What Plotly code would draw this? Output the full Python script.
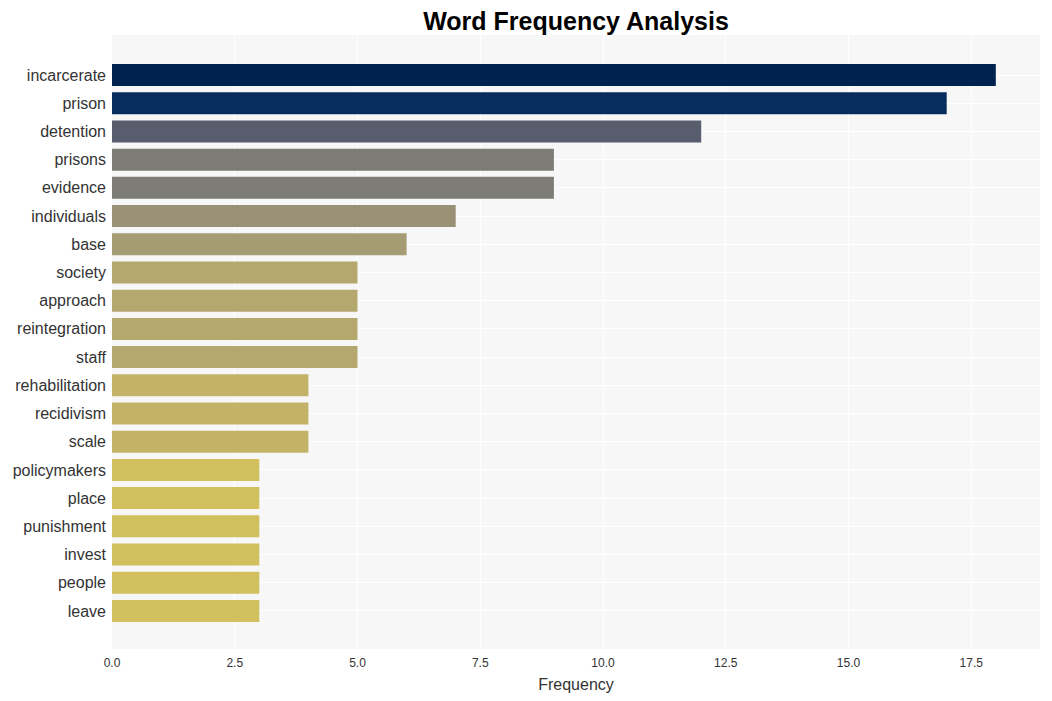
import plotly.graph_objects as go

words = ["incarcerate", "prison", "detention", "prisons", "evidence", "individuals", "base",
         "society", "approach", "reintegration", "staff", "rehabilitation", "recidivism", "scale",
         "policymakers", "place", "punishment", "invest", "people", "leave"]
freqs = [18, 17, 12, 9, 9, 7, 6, 5, 5, 5, 5, 4, 4, 4, 3, 3, 3, 3, 3, 3]

fig = go.Figure(go.Bar(
    x=freqs, y=words, orientation="h",
    marker=dict(color=freqs, colorscale="cividis_r", cmin=0, cmax=max(freqs), line=dict(width=0)),
))

fig.update_layout(
    width=1044, height=693,
    margin=dict(l=104, r=12, t=27, b=52),
    paper_bgcolor="white", plot_bgcolor="#f7f7f7",
    font=dict(family="Arial, Liberation Sans, sans-serif", color="#333333"),
    title=dict(text="<b>Word Frequency Analysis</b>", x=0.5, xref="paper", xanchor="center",
               y=0.981, yanchor="middle", font=dict(size=25, color="black")),
    bargap=0.22,
    showlegend=False,
)
fig.update_xaxes(title=dict(text="Frequency", font=dict(size=16), standoff=9), tickfont=dict(size=12),
                 gridcolor="white", zeroline=False, showline=False, dtick=2.5, tickformat=".1f",
                 range=[0, 18.9], ticklabelstandoff=5)
fig.update_yaxes(tickfont=dict(size=16), gridcolor="white", range=[20.35, -1.42], showline=False,
                 ticks="", ticklabelstandoff=5, automargin=False)

fig.write_html("out.html")
